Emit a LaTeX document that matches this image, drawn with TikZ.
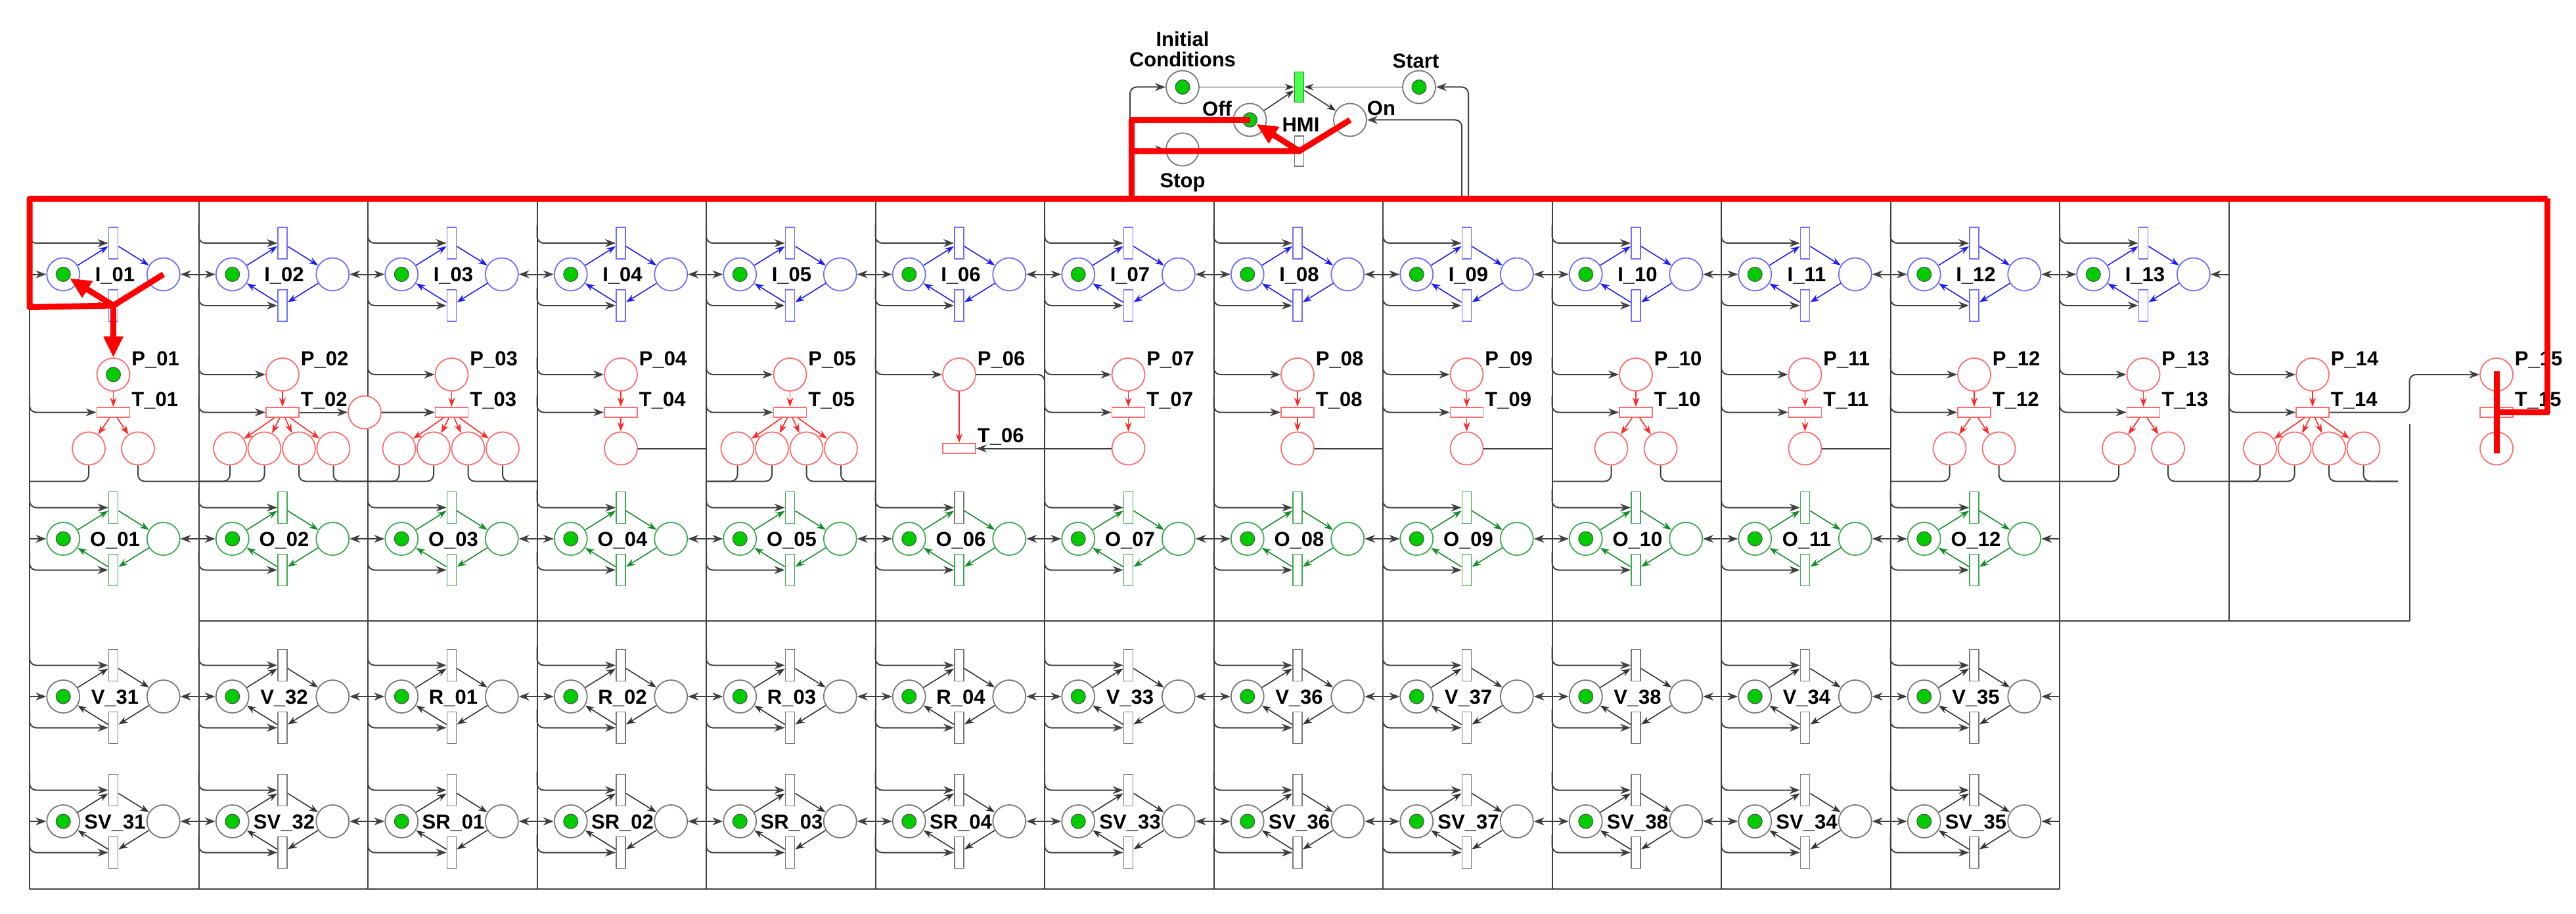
\documentclass[tikz,border=0pt]{standalone}
\usepackage{fontspec}
\setmainfont{Liberation Sans}
\usetikzlibrary{arrows.meta}
\definecolor{ib}{RGB}{110,110,255}
\definecolor{ia}{RGB}{30,30,240}
\definecolor{rp}{RGB}{255,110,110}
\definecolor{ra}{RGB}{255,40,40}
\definecolor{gp}{RGB}{60,170,80}
\definecolor{ga}{RGB}{20,140,40}
\definecolor{kp}{RGB}{120,120,120}
\definecolor{ka}{RGB}{50,50,50}
\newcommand\pnmod[6]{%
 \node[pl,draw=#4] (#1L) at (#2+20.5,#3) {};
 \node[tk] (#1k) at (#1L) {};
 \node[pl,draw=#4] (#1R) at (#2+81.5,#3) {};
 \node[vt,draw=#4] (#1T) at (#2+51,#3-19) {};
 \node[vt,draw=#4] (#1B) at (#2+51,#3+19) {};
 \node[lb] (#1n) at (#2+52,#3+1) {#6};
 \draw[arc,#5] (#1L) -- (#1T);
 \draw[arc,#5] (#1T) -- (#1R);
 \draw[arc,#5] (#1R) -- (#1B);
 \draw[arc,#5] (#1B) -- (#1L);
 \coordinate (#1a) at (#2,#3-30);
 \coordinate (#1b) at (#2,#3+8);
 \coordinate (#1m) at (#2,#3);
 \coordinate (#1e) at (#2+103,#3);
 \draw[ca] (#1a) |- (#1T);
 \draw[ca] (#1b) |- (#1B);
 \draw[ca] (#1m) -- (#1L);
 \draw[ca] (#1e) -- (#1R);
}
\begin{document}
\begin{tikzpicture}[x=1.25pt,y=-1.25pt,
 pl/.style={circle,draw,fill=white,minimum size=25pt,inner sep=0pt,line width=0.9pt},
 tk/.style={circle,draw=black!70,fill=green!80!black,minimum size=11pt,inner sep=0pt,line width=0.5pt},
 vt/.style={rectangle,draw,fill=white,minimum width=7pt,minimum height=24pt,inner sep=0pt,line width=0.9pt},
 ht/.style={rectangle,draw,fill=white,minimum width=25pt,minimum height=7.5pt,inner sep=0pt,line width=0.9pt},
 lb/.style={font=\bfseries\fontsize{15.5}{15.5}\selectfont,inner sep=0pt},
 arc/.style={-{Stealth[length=7pt,width=5pt]},line width=0.8pt},
 cn/.style={line width=1pt,draw=black!75,rounded corners=5pt},
 ca/.style={cn,-{Stealth[length=8pt,width=6pt]}},
 rd/.style={red,line width=4.5pt,line join=round},
 rda/.style={rd,-{Triangle[length=16pt,width=14pt]}},
]
\useasboundingbox (0,0) rectangle (1568.4,556.4);
\fill[white] (0,0) rectangle (1568.4,556.4);

% column lines
\foreach \k in {0,...,12}{
 \coordinate (vt\k) at (18+103*\k,122);
 \coordinate (vb\k) at (18+103*\k,541);
 \draw[cn] (vt\k) -- (vb\k);
}
\coordinate (vt13) at (1357,122); \coordinate (vb13) at (1357,378);
\draw[cn] (vt13) -- (vb13);
\coordinate (vt14) at (1467,258); \coordinate (vb14) at (1467,378);
\draw[cn] (vt14) -- (vb14);
\coordinate (hl1) at (121,378); \coordinate (hl2) at (1467,378);
\draw[cn] (hl1) -- (hl2);
\draw[cn] (vb0) -- (vb12);

% module rows
\foreach \n [count=\i from 0] in {I\_01,I\_02,I\_03,I\_04,I\_05,I\_06,I\_07,I\_08,I\_09,I\_10,I\_11,I\_12,I\_13}{
 \pgfmathsetmacro\cx{18+103*\i}
 \pnmod{I\i}{\cx}{167}{ib}{ia}{\n}}
\foreach \n [count=\i from 0] in {O\_01,O\_02,O\_03,O\_04,O\_05,O\_06,O\_07,O\_08,O\_09,O\_10,O\_11,O\_12}{
 \pgfmathsetmacro\cx{18+103*\i}
 \pnmod{O\i}{\cx}{328}{gp}{ga}{\n}}
\node[vt,draw=kp] (O5Tg) at (O5T) {};
\foreach \n [count=\i from 0] in {V\_31,V\_32,R\_01,R\_02,R\_03,R\_04,V\_33,V\_36,V\_37,V\_38,V\_34,V\_35}{
 \pgfmathsetmacro\cx{18+103*\i}
 \pnmod{V\i}{\cx}{424}{kp}{ka}{\n}}
\foreach \n [count=\i from 0] in {SV\_31,SV\_32,SR\_01,SR\_02,SR\_03,SR\_04,SV\_33,SV\_36,SV\_37,SV\_38,SV\_34,SV\_35}{
 \pgfmathsetmacro\cx{18+103*\i}
 \pnmod{S\i}{\cx}{500}{kp}{ka}{\n}}

% P / T row
\foreach \k in {1,...,15}{
 \pgfmathsetmacro\x{\k<15 ? 69+103*(\k-1) : 1520}
 \pgfmathsetmacro\ty{\k==6 ? 273 : 251}
 \node[pl,draw=rp] (P\k) at (\x,228) {};
 \node[ht,draw=rp] (T\k) at (\x,\ty) {};
 \draw[arc,ra] (P\k) -- (T\k);
 \node[lb,anchor=west] (PL\k) at (\x+11,219) {P\_\ifnum\k<10 0\fi\k};
 \node[lb,anchor=west] (TL\k) at (\x+11,\ty-7) {T\_\ifnum\k<10 0\fi\k};
}
\foreach \k in {2,...,14}{
 \coordinate (pc\k) at (69+103*\k-154,218);
 \coordinate (tc\k) at (69+103*\k-154,241);
 \draw[ca] (pc\k) |- (P\k);
}
\foreach \k in {2,3,4,5,7,8,9,10,11,12,13,14}{\draw[ca] (tc\k) |- (T\k);}
\coordinate (tc1) at (18,241); \draw[ca] (tc1) |- (T1);

% multi outputs
\foreach \k/\offs in {1/{-15,15},2/{-32,-11,10,31},3/{-32,-11,10,31},5/{-32,-11,10,31},10/{-15,15},12/{-15,15},13/{-15,15},14/{-32,-11,10,31}}{
 \foreach \o [count=\j] in \offs {
  \pgfmathsetmacro\x{69+103*(\k-1)}
  \pgfmathsetmacro\lx{\o<0 ? \x-51 : \x+52}
  \node[pl,draw=rp] (Q\k-\j) at (\x+\o,273) {};
  \draw[arc,ra] (T\k) -- (Q\k-\j);
  \coordinate (q\k-\j) at (\lx,293);
  \draw[cn] (Q\k-\j) |- (q\k-\j);
 }}
% single outputs
\foreach \k in {4,7,8,9,11,15}{
 \pgfmathsetmacro\x{\k<15 ? 69+103*(\k-1) : 1520}
 \node[pl,draw=rp] (Q\k-1) at (\x,273) {};
 \draw[arc,ra] (T\k) -- (Q\k-1);
}
\foreach \k in {4,8,9,11}{
 \coordinate (s\k) at (69+103*\k-51,273);
 \draw[cn] (Q\k-1) -- (s\k);
}
\draw[ca] (Q7-1) -- (T6);
\coordinate (c6) at (636,262);
\draw[cn] (P6) -| (c6);
% extra place after T_02
\node[pl,draw=rp] (X2) at (222,251) {};
\draw[ca] (T2) -- (X2);
\draw[ca] (X2) -- (T3);
% T_14 to P_15
\coordinate (c14) at (1467,240);
\draw[ca] (T14) -| (c14) |- (P15);

% HMI block
\node[pl,draw=kp] (IC) at (720,53) {}; \node[tk] (ICk) at (IC) {};
\node[pl,draw=kp] (ST) at (864,53) {}; \node[tk] (STk) at (ST) {};
\node[pl,draw=kp] (OFF) at (761,73) {}; \node[tk] (OFFk) at (OFF) {};
\node[pl,draw=kp] (ON) at (822,73) {};
\node[pl,draw=kp] (STP) at (720,91) {};
\node[vt,draw=ga,fill=green!70,minimum height=23pt] (HT1) at (791,53) {};
\node[vt,draw=kp,minimum height=23pt] (HT2) at (791,92) {};
\node[lb,align=center] (ICl) at (720,30) {Initial\\Conditions};
\node[lb] (STl) at (862,37) {Start};
\node[lb] (OFFl) at (741,66) {Off};
\node[lb] (ONl) at (841,66) {On};
\node[lb] (HMIl) at (792,76) {HMI};
\node[lb] (STPl) at (720,111) {Stop};
\draw[arc,ka] (IC) -- (HT1);
\draw[arc,ka] (ST) -- (HT1);
\draw[arc,ka] (OFF) -- (HT1);
\draw[arc,ka] (HT1) -- (ON);
\coordinate (hl) at (688,121); \coordinate (hr) at (894,121);
\coordinate (hri) at (890,121);
\draw[ca] (hl) |- (IC);
\draw[ca] (hl) |- (STP);
\draw[ca] (hr) |- (ST);
\draw[ca] (hri) |- (ON);

% red highlights
\coordinate (rA) at (18,121); \coordinate (rB) at (1551,121);
\coordinate (rC) at (1551,251); \coordinate (rD) at (1520,251);
\coordinate (rE) at (1520,226); \coordinate (rF) at (1520,276);
\coordinate (rG) at (18,187);
\draw[rd] (rB) -- (rA) -- (rG) -- (I0B.center) -- (I0R.center);
\draw[rda] (I0B.center) -- (I0k);
\draw[rda] (I0B.center) -- (P1.north);
\node[tk] (P1k) at (P1) {};
\draw[rd] (rB) -- (rC) -- (rD);
\draw[rd] (rE) -- (rF);
\coordinate (hA) at (689,121); \coordinate (hB) at (689,73); \coordinate (hC) at (689,92);
\draw[rd] (hA) -- (hB) -- (OFF.center);
\draw[rd] (hC) -- (HT2.center) -- (ON.center);
\draw[rda] (HT2.center) -- (OFFk);
\end{tikzpicture}
\end{document}
